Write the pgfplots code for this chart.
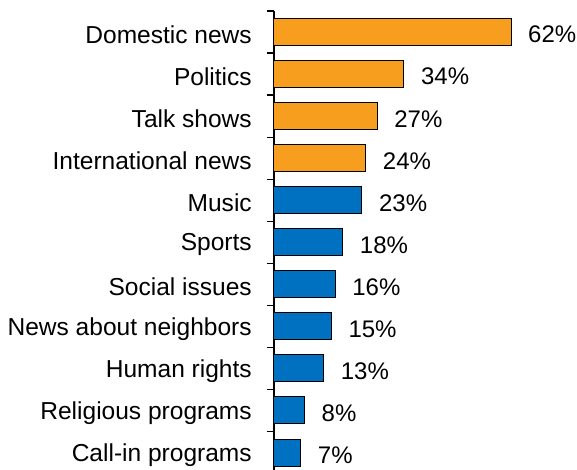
\documentclass[border=0pt]{standalone}
\usepackage{fontspec}
\setmainfont{Liberation Sans}
\usepackage{pgfplots}
\pgfplotsset{compat=1.18}
\definecolor{barorange}{RGB}{247,158,30}
\definecolor{barblue}{RGB}{0,112,192}
\begin{document}
\begin{tikzpicture}
\begin{axis}[
  at={(0,0)}, anchor=south west, scale only axis,
  width=227.25pt, height=344.25pt,
  xmin=0, xmax=79.26, ymin=-0.416, ymax=10.5,
  axis x line=none, axis y line=left,
  axis line style={-, black, line width=0.9pt},
  xbar, bar width=20.25pt, bar shift=0pt,
  ytick={0,...,10},
  yticklabels={Call-in programs,Religious programs,Human rights,News about neighbors,Social issues,Sports,Music,International news,Talk shows,Politics,Domestic news},
  major tick length=0pt,
  minor ytick={0.5,1.5,...,10.5},
  minor tick length=5.25pt,
  tick align=outside,
  minor tick style={black, line width=0.9pt},
  yticklabel style={anchor=east, inner sep=0pt, xshift=-16.5pt, yshift=-2pt, font=\fontsize{18.4}{21}\selectfont},
  /pgf/number format/assume math mode=true,
  nodes near coords={\pgfmathprintnumber{\pgfplotspointmeta}\%},
  nodes near coords style={anchor=west, inner sep=0pt, xshift=12.5pt, yshift=-2pt, font=\fontsize{18}{21}\selectfont, black},
  clip=false,
]
\addplot[draw=black, line width=0.75pt, fill=barblue] coordinates {(7,0) (8,1) (13,2) (15,3) (16,4) (18,5) (23,6)};
\addplot[draw=black, line width=0.75pt, fill=barorange] coordinates {(24,7) (27,8) (34,9) (62,10)};
\end{axis}
\pgfresetboundingbox
\path (-205.5pt,0pt) rectangle (227.25pt,352.5pt);
\end{tikzpicture}
\end{document}
